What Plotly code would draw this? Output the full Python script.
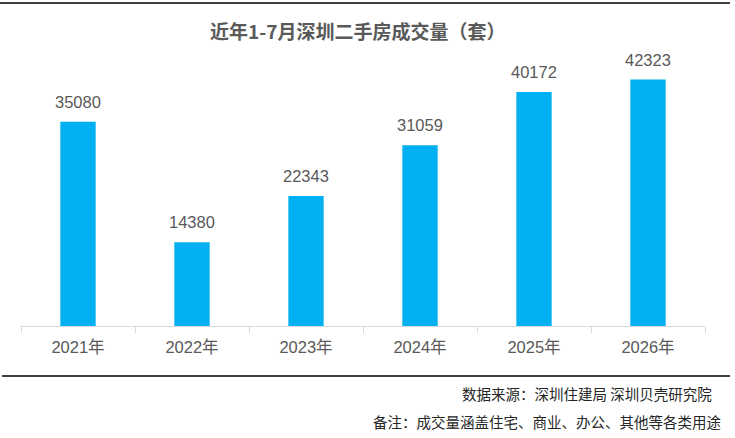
import plotly.graph_objects as go

W, H = 735, 438

years = ["2021年", "2022年", "2023年", "2024年", "2025年", "2026年"]
volumes = [35080, 14380, 22343, 31059, 40172, 42323]

title_text = "近年1-7月深圳二手房成交量（套）"
source_text = "数据来源：深圳住建局 深圳贝壳研究院"
note_text = "备注：成交量涵盖住宅、商业、办公、其他等各类用途"

cjk_font = "Noto Sans CJK SC, Noto Sans, sans-serif"
num_font = "Liberation Sans, Noto Sans CJK SC, sans-serif"
grey = "#595959"

# plot area in pixels
px_left, px_right = 21, 705
px_top, px_bottom = 64, 326


def py(y):
    return 1 - y / H


def pxx(x):
    return x / W


fig = go.Figure()
fig.add_trace(go.Bar(
    x=years, y=volumes,
    marker=dict(color="#00B0F0", line=dict(width=0)),
    hoverinfo="skip",
))

# value labels above bars
labels = [dict(x=yr, y=v, xref="x", yref="y", text=str(v),
               xanchor="center", yanchor="bottom", yshift=9,
               showarrow=False,
               font=dict(size=16.5, color=grey, family=num_font))
          for yr, v in zip(years, volumes)]

fig.update_layout(
    width=W, height=H,
    margin=dict(l=0, r=0, t=0, b=0),
    paper_bgcolor="white", plot_bgcolor="white",
    showlegend=False,
    bargap=0.69,
    font=dict(family=cjk_font, color=grey),
    xaxis=dict(
        domain=[pxx(px_left), pxx(px_right)],
        showline=True, linecolor="#D9D9D9", linewidth=1,
        ticks="outside", tickson="boundaries", ticklen=6, tickcolor="#D9D9D9",
        tickfont=dict(size=16.5, color=grey, family=num_font),
        ticklabelstandoff=6,
        showgrid=False, fixedrange=True,
    ),
    yaxis=dict(
        domain=[py(px_bottom), py(px_top)],
        range=[0, 45000],
        visible=False, fixedrange=True,
    ),
    shapes=[
        dict(type="line", xref="paper", yref="paper",
             x0=0, x1=pxx(730), y0=py(3), y1=py(3),
             line=dict(color="black", width=1.5)),
        dict(type="line", xref="paper", yref="paper",
             x0=pxx(2), x1=pxx(730), y0=py(376), y1=py(376),
             line=dict(color="black", width=1.5)),
    ],
    annotations=labels + [
        dict(text="<b>" + title_text + "</b>", xref="paper", yref="paper",
             x=pxx(357), y=py(30), xanchor="center", yanchor="middle",
             showarrow=False, font=dict(size=19, color=grey)),
        dict(text=source_text, xref="paper", yref="paper",
             x=pxx(714), y=py(393), xanchor="right", yanchor="middle",
             showarrow=False, font=dict(size=14.5, color="#262626")),
        dict(text=note_text, xref="paper", yref="paper",
             x=pxx(723), y=py(421), xanchor="right", yanchor="middle",
             showarrow=False, font=dict(size=14.5, color="#262626")),
    ],
)

fig.write_html("out.html", config=dict(displayModeBar=False),
               post_script="document.body.style.margin='0';"
                           "document.body.style.overflow='hidden';")
